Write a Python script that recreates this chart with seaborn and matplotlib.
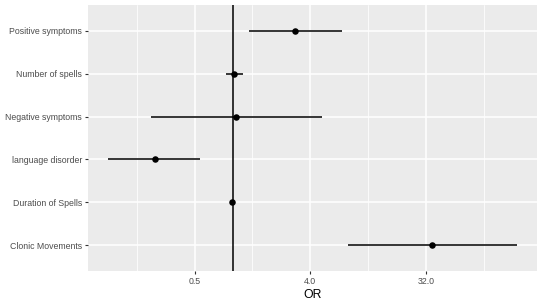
import matplotlib
matplotlib.use("Agg")
import matplotlib.pyplot as plt
import seaborn as sns
import pandas as pd
import numpy as np
from matplotlib.ticker import FixedLocator, FixedFormatter, NullFormatter

variables = ["Positive symptoms", "Number of spells", "Negative symptoms",
             "language disorder", "Duration of Spells", "Clonic Movements"]
odds_ratio = [3.07, 1.02, 1.06, 0.245, 0.98, 36.0]
ci_lower = [1.34, 0.88, 0.227, 0.106, 0.965, 7.95]
ci_upper = [7.15, 1.19, 4.97, 0.55, 0.995, 164.0]
tick_values = [0.5, 4.0, 32.0]
tick_labels = ["0.5", "4.0", "32.0"]

df = pd.DataFrame({"var": variables, "OR": odds_ratio, "lo": ci_lower, "hi": ci_upper})

sns.set_theme(style="darkgrid", rc={"axes.facecolor": "#EBEBEB", "grid.color": "white"})
plt.rcParams["font.family"] = ["Liberation Sans", "DejaVu Sans"]

fig = plt.figure(figsize=(5.4, 3.04), dpi=100)
ax = fig.add_axes([88/540, 1-271/304, (537-88)/540, (271-5)/304])

ax.set_xscale("log", base=2)
ypos = np.arange(len(variables))
ax.hlines(ypos, df["lo"], df["hi"], color="black", lw=1.1, zorder=3)
ax.axvline(1, color="black", lw=1.1, zorder=2)
sns.scatterplot(data=df, x="OR", y="var", color="black", s=22, edgecolor="black",
                linewidth=0, zorder=4, ax=ax)

lo_l = np.log2(min(ci_lower)); hi_l = np.log2(max(ci_upper))
w = hi_l - lo_l
ax.set_xlim(2**(lo_l - 0.05*w), 2**(hi_l + 0.05*w))
ax.set_ylim(len(variables) - 1 + 0.6, -0.6)

ax.xaxis.set_major_locator(FixedLocator(tick_values))
ax.xaxis.set_major_formatter(FixedFormatter(tick_labels))
ax.xaxis.set_minor_locator(FixedLocator([2**-2.5, 2**0.5, 2**3.5, 2**6.5]))
ax.xaxis.set_minor_formatter(NullFormatter())
ax.grid(which="major", color="white", lw=1.1)
ax.grid(which="minor", axis="x", color="white", lw=0.55)
ax.set_axisbelow(True)
for s in ax.spines.values():
    s.set_visible(False)

ax.tick_params(axis="both", which="major", length=2.5, width=0.8, color="#333333",
               labelsize=6.3, labelcolor="#4D4D4D", pad=1.8, bottom=True, left=True)
ax.tick_params(axis="x", which="minor", length=0)
ax.set_xlabel("OR", fontsize=8.8, color="black", labelpad=2)
ax.set_ylabel("")

fig.savefig("out.png", dpi=100)
